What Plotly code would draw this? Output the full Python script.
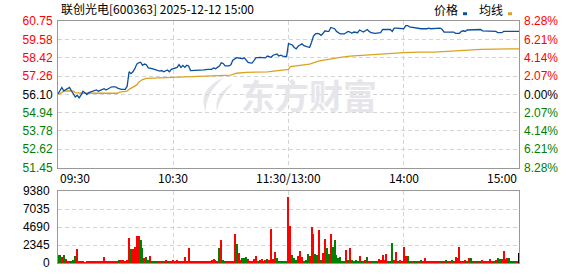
import plotly.graph_objects as go

# ---------------- data ----------------
title_text = "联创光电[600363] 2025-12-12 15:00"
prev_close = 56.10

price_t = [0,1,2,3,4,6,7,8,9,10,11,12,13,14,15,16,18,20,21,23,24,25,27,28,30,31,33,35,36,37,38,39,40,41,42,43,44,45,46,47,49,50,51,53,54,55,57,58,59,60,62,63,64,65,66,67,68,69,70,74,76,78,80,81,82,84,85,86,87,89,90,91,92,93,95,96,97,98,99,100,101,102,103,105,107,108,109,111,112,114,115,116,117,118,119,120,122,123,124,125,127,128,129,131,132,133,134,135,136,137,138,139,140,141,142,144,145,146,147,149,150,151,152,153,154,156,157,158,159,160,161,162,163,165,167,168,169,173,174,175,176,178,180,181,182,183,185,186,188,189,192,193,194,196,197,199,200,201,206,207,209,210,211,212,213,215,216,220,221,227,228,229,231,232,240]
price_v = [56.13,56.30,56.54,56.33,56.40,56.54,56.33,56.13,55.93,56.05,55.88,56.05,56.30,56.21,56.09,56.21,56.30,56.38,56.30,56.38,56.46,56.38,56.50,56.58,56.58,56.50,56.42,56.42,56.62,57.53,57.41,57.53,57.73,58.02,58.10,58.14,57.94,58.02,57.98,57.78,57.73,57.69,57.61,57.57,57.61,57.53,57.65,57.53,57.69,57.73,57.81,57.98,57.81,57.94,57.81,57.94,57.90,57.61,57.61,57.61,57.65,57.69,57.69,57.78,57.73,57.90,58.10,58.06,57.90,57.90,57.98,58.27,58.35,58.43,58.39,58.35,58.42,58.29,58.12,58.10,58.08,58.24,58.41,58.45,58.45,58.41,58.53,58.45,58.58,58.66,58.53,58.58,58.53,58.49,58.49,59.31,59.23,59.07,58.98,59.15,59.31,59.19,59.15,59.07,59.40,59.80,59.93,59.97,59.93,59.84,59.97,60.13,60.09,60.09,60.34,60.26,60.09,60.01,59.93,59.93,60.01,60.09,60.05,59.97,60.05,60.01,60.18,60.13,60.05,60.13,60.21,60.09,60.01,59.97,59.97,60.01,60.21,60.21,60.09,60.30,60.30,60.26,60.26,60.46,60.46,60.38,60.34,60.30,60.30,60.26,60.26,60.30,60.26,60.26,60.30,60.30,60.21,60.05,60.05,59.97,59.97,60.09,60.13,60.09,60.18,60.18,60.21,60.21,60.13,60.13,60.09,60.01,60.01,60.09,60.09]

avg_t = [0,1,3,6,8,9,13,31,32,36,37,39,41,42,44,46,65,74,81,90,93,98,109,120,121,131,136,142,147,152,161,171,180,188,196,207,220,235,240]
avg_v = [56.13,56.13,56.30,56.33,56.30,56.21,56.17,56.17,56.25,56.30,56.42,56.54,56.70,56.87,57.04,57.12,57.20,57.22,57.28,57.32,57.44,57.49,57.53,57.69,57.86,58.02,58.22,58.37,58.45,58.53,58.61,58.70,58.74,58.78,58.78,58.86,58.95,58.98,58.98]

volume = [1000,1000,760,1000,500,170,170,250,340,845,1775,150,130,150,120,150,140,150,130,150,140,150,130,150,760,150,140,150,130,150,140,150,340,340,340,250,340,3300,1775,1775,2030,3460,3550,3040,1900,630,760,340,930,250,250,170,170,150,170,150,340,170,170,250,340,170,340,250,170,170,760,170,1900,150,150,150,150,150,150,150,170,150,170,150,340,500,340,170,1900,2960,340,170,170,170,170,170,3800,2530,1270,340,590,590,760,500,170,170,500,930,170,340,500,170,340,500,340,4440,500,1400,630,170,170,170,170,170,8620,
          4860,1014,630,420,930,1520,760,170,420,1180,930,4730,3800,1180,1060,4310,340,1270,3170,1900,1180,3800,2030,3040,1014,630,760,170,170,1690,340,1900,340,170,340,170,930,250,250,340,760,170,170,170,170,170,500,340,1014,340,1180,170,170,2535,340,1440,170,340,170,2110,930,930,170,170,250,170,170,170,340,170,630,170,170,170,170,170,170,170,170,250,170,420,170,170,420,250,760,630,2030,170,250,340,250,630,630,170,170,250,250,170,420,250,170,170,500,250,250,340,630,500,500,1520,500,630,630,170,170,170,170,1270]
vol_up = [0,0,1,0,1,1,1,0,0,0,1,1,1,1,1,1,1,1,1,1,1,1,1,1,1,1,1,1,1,1,1,1,0,1,1,1,1,1,0,1,1,1,1,0,0,1,0,0,1,0,0,0,1,1,0,1,1,1,0,1,1,1,1,1,1,1,1,1,1,1,1,1,1,1,1,1,1,1,1,1,1,1,1,1,0,1,0,0,1,1,1,1,1,0,1,1,0,0,0,1,1,1,1,1,0,1,1,0,1,0,1,1,1,1,0,0,0,0,0,0,1,
          1,0,0,0,1,1,1,0,0,0,1,1,1,0,0,1,0,1,1,0,0,1,0,0,0,0,0,0,0,1,0,1,0,0,0,0,1,0,0,1,0,1,1,0,0,0,1,1,1,1,1,0,0,0,1,1,0,1,1,1,1,0,0,0,1,0,0,1,0,1,1,1,1,1,1,1,1,1,0,1,1,0,1,1,0,1,1,1,1,1,1,1,0,1,0,0,1,0,1,0,1,1,1,1,1,1,0,1,0,0,1,1,1,1,0,0,0,0,1]

price_ticks = [51.45,52.62,53.78,54.94,56.10,57.26,58.42,59.58,60.75]
pct_ticks = ["8.28%","6.21%","4.14%","2.07%","0.00%","2.07%","4.14%","6.21%","8.28%"]
vol_ticks = [0,2345,4690,7035,9380]
time_pos = [0,60,120,180,240]
time_labels = ["09:30","10:30","11:30/13:00","14:00","15:00"]
legend_names = ["价格","均线"]

# ---------------- styles ----------------
RED = "#ff0000"
GREEN = "#008000"
BLUE = "#0b4f9f"
GOLD = "#dca21e"
GRID = "#d4d4d4"
BORDER = "#999999"
WM = "#e6e6ea"
TICKFONT = dict(family="Liberation Sans, Arial", size=12)
CJK = "Noto Sans CJK SC"

def tcolor(v):
    if abs(v - prev_close) < 1e-6:
        return "#000000"
    return RED if v > prev_close else GREEN

left_text = [f"<span style='color:{tcolor(v)}'>{v:.2f}</span>" for v in price_ticks]
right_text = [f"<span style='color:{tcolor(v)}'>{s}</span>" for v, s in zip(price_ticks, pct_ticks)]

fig = go.Figure()
fig.add_trace(go.Scatter(x=avg_t, y=avg_v, mode="lines", line=dict(color=GOLD, width=1.3),
                         xaxis="x", yaxis="y", hoverinfo="skip"))
fig.add_trace(go.Scatter(x=price_t, y=price_v, mode="lines", line=dict(color=BLUE, width=1.3),
                         xaxis="x", yaxis="y2", hoverinfo="skip"))
fig.add_trace(go.Bar(x=list(range(len(volume))), y=volume,
                     marker=dict(color=[RED if u else GREEN for u in vol_up], line=dict(width=0)),
                     width=0.55, xaxis="x2", yaxis="y3", hoverinfo="skip"))

L, R, T, B = 58, 59, 21, 6
H = 276 - T - B
price_bottom = (276 - B - 172) / H
vol_top = (276 - B - 196) / H

axis_common = dict(showline=True, mirror=True, linecolor=BORDER, linewidth=1, zeroline=False,
                   fixedrange=True)

fig.update_layout(
    width=578, height=276, margin=dict(l=L, r=R, t=T, b=B),
    paper_bgcolor="white", plot_bgcolor="white", showlegend=False,
    bargap=0,
    xaxis=dict(domain=[0, 1], range=[0, 240], anchor="y", tickvals=time_pos[1:-1],
               showticklabels=False, showgrid=True, gridcolor=GRID, griddash="4px,3px",
               ticks="", **axis_common),
    yaxis=dict(domain=[price_bottom, 1], range=[price_ticks[0], price_ticks[-1]], anchor="x",
               tickvals=price_ticks, ticktext=left_text, tickfont=TICKFONT, ticks="",
               ticklabelstandoff=2,
               showgrid=True, gridcolor=GRID, griddash="4px,3px", **axis_common),
    yaxis2=dict(overlaying="y", side="right", anchor="x", range=[price_ticks[0], price_ticks[-1]],
                tickvals=price_ticks, ticktext=right_text, tickfont=TICKFONT, ticks="",
                ticklabelstandoff=4, showgrid=False, zeroline=False, fixedrange=True),
    xaxis2=dict(domain=[0, 1], range=[0, 240], anchor="y3", tickvals=time_pos[1:-1],
                showticklabels=False, showgrid=True, gridcolor=GRID, griddash="4px,3px",
                ticks="", **axis_common),
    yaxis3=dict(domain=[0, vol_top], range=[0, vol_ticks[-1]], anchor="x2",
                tickvals=vol_ticks, ticktext=[str(v) for v in vol_ticks],
                tickfont=dict(TICKFONT, color="#000000"), ticks="", ticklabelstandoff=5,
                showgrid=True, gridcolor=GRID, griddash="4px,3px", **axis_common),
)

def py(p):  # pixel y -> paper y
    return (276 - B - p) / H

def px(p):
    return (p - L) / (578 - L - R)

ann = []
ann.append(dict(text=title_text, xref="paper", yref="paper", x=px(59), y=py(8.5),
                xanchor="left", yanchor="middle", showarrow=False,
                font=dict(family=CJK, size=12, color="#000000")))
# watermark
ann.append(dict(text="东方财富", xref="paper", yref="paper", x=px(309), y=py(97),
                xanchor="center", yanchor="middle", showarrow=False,
                font=dict(family=CJK, size=34, color=WM, weight="bold")))
# legend texts
ann.append(dict(text=legend_names[0], xref="paper", yref="paper", x=px(432), y=py(9),
                xanchor="left", yanchor="middle", showarrow=False,
                font=dict(family=CJK, size=12, color="#000000")))
ann.append(dict(text=legend_names[1], xref="paper", yref="paper", x=px(477), y=py(9),
                xanchor="left", yanchor="middle", showarrow=False,
                font=dict(family=CJK, size=12, color="#000000")))
# time labels
for i, (t, lab) in enumerate(zip(time_pos, time_labels)):
    anchor = "left" if i == 0 else ("right" if i == len(time_pos) - 1 else "center")
    ann.append(dict(text=lab, xref="x", yref="paper", x=t, y=py(182.5),
                    xanchor=anchor, yanchor="middle", showarrow=False,
                    font=dict(family=CJK, size=12, color="#000000")))
fig.update_layout(annotations=ann)

def pth(points):
    # points: list of (cmd, [(x,y),...]) in pixel coords -> SVG path in paper coords
    out = []
    for cmd, pts in points:
        out.append(cmd + " " + " ".join(f"{px(x):.4f},{py(y):.4f}" for x, y in pts))
    return " ".join(out) + " Z"

logo1 = pth([("M", [(224, 79)]), ("Q", [(196, 92), (206, 115)]), ("Q", [(205, 96), (224, 79)])])
logo2 = pth([("M", [(233, 85)]), ("Q", [(213, 97), (217, 114)]), ("Q", [(219, 100), (233, 85)])])

shapes = [
    dict(type="path", xref="paper", yref="paper", path=logo1, fillcolor=WM, line=dict(width=0),
         layer="below"),
    dict(type="path", xref="paper", yref="paper", path=logo2, fillcolor=WM, line=dict(width=0),
         layer="below"),
    dict(type="rect", xref="paper", yref="paper", x0=px(463), x1=px(467), y0=py(15), y1=py(12),
         fillcolor=BLUE, line=dict(width=0)),
    dict(type="rect", xref="paper", yref="paper", x0=px(508), x1=px(512), y0=py(15), y1=py(12),
         fillcolor=GOLD, line=dict(width=0)),
]
fig.update_layout(shapes=shapes)

fig.write_html("out.html", config={"displayModeBar": False})
